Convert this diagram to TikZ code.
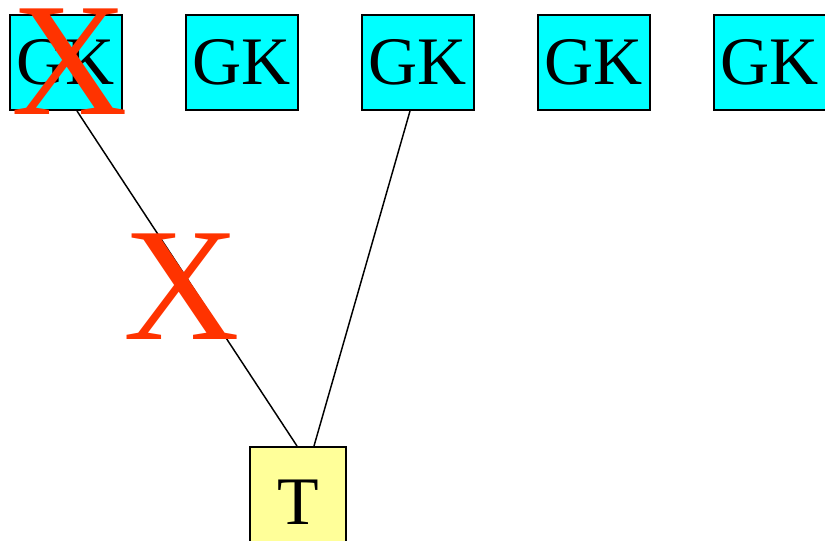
\documentclass[tikz,border=0pt]{standalone}
\usepackage{fontspec}
\setmainfont{Liberation Serif}
\definecolor{gkcyan}{RGB}{0,255,255}
\definecolor{tyellow}{RGB}{255,255,153}
\definecolor{crossred}{RGB}{255,51,0}
\tikzset{
	gk/.style={draw,line width=1.5pt,fill=gkcyan,minimum width=84pt,minimum height=71.25pt,inner sep=0pt,font=\fontsize{51}{51}\selectfont},
	tbox/.style={draw,line width=1.5pt,fill=tyellow,minimum width=72pt,minimum height=82.5pt,inner sep=0pt,font=\fontsize{51}{51}\selectfont},
	cross/.style={text=crossred,inner sep=0pt,font=\fontsize{121}{121}\selectfont},
	link/.style={line width=1.1pt}
}
\begin{document}
\begin{tikzpicture}[x=0.75pt,y=-0.75pt]
		\useasboundingbox (0,0) rectangle (825,540);
		\clip (0,0) rectangle (825,540);
			\node[gk] (gk1) at (66,62.5) {GK};
			\node[gk] (gk2) at (242,62.5) {GK};
			\node[gk] (gk3) at (418,62.5) {GK};
			\node[gk] (gk4) at (594,62.5) {GK};
			\node[gk] (gk5) at (770,62.5) {GK};
			\node[tbox] (t) at (298,502) {T};
			\draw[link] ([xshift=8.25pt]gk1.south) -- ([xshift=-0.75pt]t.north);
			\draw[link] ([xshift=-6pt]gk3.south) -- ([xshift=12pt]t.north);
			\node[cross] (xa) at (70,62) {X};
			\node[cross] (xb) at (182,287) {X};
	\end{tikzpicture}
\end{document}
